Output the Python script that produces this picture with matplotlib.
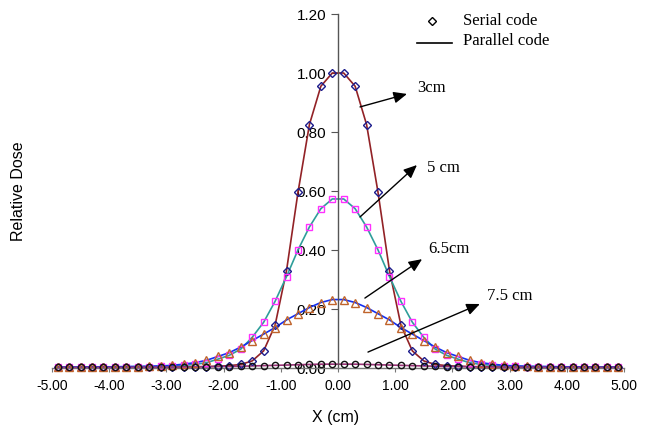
import matplotlib
matplotlib.use("Agg")
import matplotlib.pyplot as plt

x_cm = [-4.9, -4.7, -4.5, -4.3, -4.1, -3.9, -3.7, -3.5, -3.3, -3.1,
        -2.9, -2.7, -2.5, -2.3, -2.1, -1.9, -1.7, -1.5, -1.3, -1.1,
        -0.9, -0.7, -0.5, -0.3, -0.1, 0.1, 0.3, 0.5, 0.7, 0.9,
        1.1, 1.3, 1.5, 1.7, 1.9, 2.1, 2.3, 2.5, 2.7, 2.9,
        3.1, 3.3, 3.5, 3.7, 3.9, 4.1, 4.3, 4.5, 4.7, 4.9]

dose_3cm = [0.002, 0.002, 0.002, 0.002, 0.002, 0.002, 0.003, 0.003, 0.003, 0.003,
            0.003, 0.004, 0.004, 0.005, 0.006, 0.008, 0.012, 0.024, 0.058, 0.145,
            0.330, 0.595, 0.825, 0.955, 1.000, 1.000, 0.955, 0.825, 0.595, 0.330,
            0.145, 0.058, 0.024, 0.012, 0.008, 0.006, 0.005, 0.004, 0.004, 0.003,
            0.003, 0.003, 0.003, 0.003, 0.002, 0.002, 0.002, 0.002, 0.002, 0.002]

dose_5cm = [0.003, 0.003, 0.003, 0.003, 0.004, 0.004, 0.004, 0.005, 0.005, 0.006,
            0.007, 0.009, 0.012, 0.018, 0.030, 0.043, 0.064, 0.104, 0.155, 0.226,
            0.310, 0.400, 0.478, 0.540, 0.573, 0.573, 0.540, 0.478, 0.400, 0.310,
            0.226, 0.155, 0.104, 0.064, 0.043, 0.030, 0.018, 0.012, 0.009, 0.007,
            0.006, 0.005, 0.005, 0.004, 0.004, 0.004, 0.003, 0.003, 0.003, 0.003]

dose_65cm = [0.003, 0.003, 0.003, 0.004, 0.004, 0.004, 0.005, 0.005, 0.006, 0.007,
             0.009, 0.013, 0.018, 0.026, 0.039, 0.052, 0.071, 0.093, 0.115, 0.137,
             0.163, 0.184, 0.205, 0.222, 0.232, 0.232, 0.222, 0.205, 0.184, 0.163,
             0.137, 0.115, 0.093, 0.071, 0.052, 0.039, 0.026, 0.018, 0.013, 0.009,
             0.007, 0.006, 0.005, 0.005, 0.004, 0.004, 0.004, 0.003, 0.003, 0.003]

dose_75cm = [0.002, 0.002, 0.002, 0.002, 0.002, 0.002, 0.002, 0.003, 0.003, 0.003,
             0.003, 0.003, 0.004, 0.004, 0.005, 0.005, 0.006, 0.007, 0.008, 0.009,
             0.010, 0.011, 0.012, 0.013, 0.013, 0.013, 0.013, 0.012, 0.011, 0.010,
             0.009, 0.008, 0.007, 0.006, 0.005, 0.005, 0.004, 0.004, 0.003, 0.003,
             0.003, 0.003, 0.003, 0.002, 0.002, 0.002, 0.002, 0.002, 0.002, 0.002]

x_ticks = [-5, -4, -3, -2, -1, 0, 1, 2, 3, 4, 5]
y_ticks = [0.0, 0.2, 0.4, 0.6, 0.8, 1.0, 1.2]

serif = "Liberation Serif"
sans = "Liberation Sans"

fig = plt.figure(figsize=(6.46, 4.27), dpi=100)
ax = fig.add_axes([52/646, 58/427, 572/646, 354/427])
ax.set_xlim(-5, 5)
ax.set_ylim(0, 1.2)

series = [
    (dose_3cm, '#922226', 'D', '#1C1C8C', 4.4),
    (dose_5cm, '#2E9E9A', 's', '#FF30FF', 4.8),
    (dose_65cm, '#1530F0', '^', '#C0642C', 5.5),
    (dose_75cm, '#993377', 'o', '#111111', 4.5),
]
for vals, lc, mk, mc, ms in series:
    ax.plot(x_cm, vals, color=lc, lw=1.2, zorder=2, clip_on=False)
for vals, lc, mk, mc, ms in series:
    ax.plot(x_cm, vals, ls='none', marker=mk, ms=ms, mfc='none', mec=mc,
            mew=1.0, zorder=3, clip_on=False)

for s in ['top', 'right']:
    ax.spines[s].set_visible(False)
ax.spines['left'].set_position(('data', 0))
ax.spines['left'].set_color('#555555')
ax.spines['bottom'].set_color('#777777')
ax.spines['left'].set_linewidth(1.0)
ax.spines['bottom'].set_linewidth(1.0)

ax.set_xticks(x_ticks)
ax.set_xticklabels([f"{v:.2f}" for v in x_ticks], fontfamily=sans, fontsize=10)
ax.set_yticks(y_ticks)
ax.set_yticklabels([f"{v:.2f}" for v in y_ticks], fontfamily=sans, fontsize=11)
ax.tick_params(axis='x', length=3, width=0.8, pad=4, colors='#000000')
ax.tick_params(axis='y', length=5, width=0.8, pad=3.5, colors='#000000')
ax.tick_params(axis='x', color='#777777')
ax.tick_params(axis='y', color='#555555')

fig.text(336/646, 1 - 418/427, "X (cm)", ha='center', va='center',
         fontfamily=sans, fontsize=11.5)
fig.text(19/646, 1 - 191/427, "Relative Dose", ha='center', va='center',
         rotation=90, fontfamily=sans, fontsize=11.5)

arrows = [
    ("3cm", (0.385, 0.885), (1.206, 0.929), (1.38, 0.953)),
    ("5 cm", (0.385, 0.512), (1.38, 0.688), (1.556, 0.681)),
    ("6.5cm", (0.47, 0.237), (1.47, 0.369), (1.573, 0.407)),
    ("7.5 cm", (0.524, 0.054), (2.48, 0.217), (2.60, 0.247)),
]
for label, tail, head, tpos in arrows:
    ax.annotate("", xy=head, xytext=tail,
                arrowprops=dict(arrowstyle='-|>,head_length=0.8,head_width=0.35',
                                color='black', lw=1.0, shrinkA=0, shrinkB=0))
    ax.text(tpos[0], tpos[1], label, ha='left', va='center',
            fontfamily=serif, fontsize=12)

ax.plot([1.643], [1.176], ls='none', marker='D', ms=4.4, mfc='none',
        mec='black', mew=1.0, clip_on=False)
ax.text(2.185, 1.180, "Serial code", ha='left', va='center',
        fontfamily=serif, fontsize=12)
ax.plot([1.38, 1.99], [1.102, 1.102], color='black', lw=1.2, clip_on=False)
ax.text(2.185, 1.112, "Parallel code", ha='left', va='center',
        fontfamily=serif, fontsize=12)

fig.savefig("out.png", dpi=100)
